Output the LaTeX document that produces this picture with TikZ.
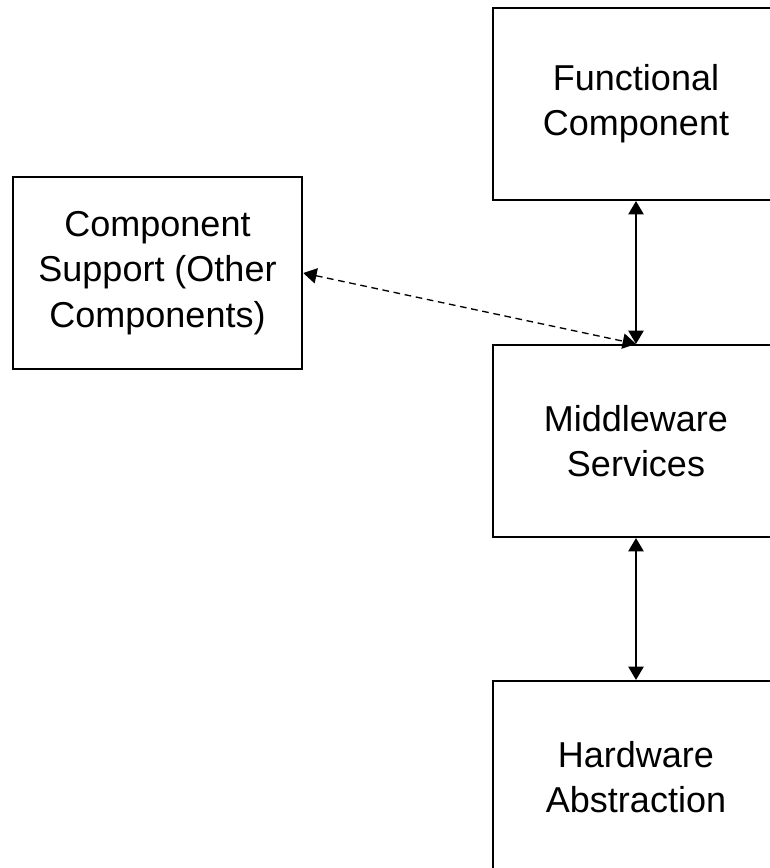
\documentclass[tikz,border=0pt]{standalone}
\usepackage{fontspec}
\setmainfont{Liberation Sans}
\usepackage{tikz}
\usetikzlibrary{arrows.meta}

\begin{document}
\begin{tikzpicture}[x=0.75pt,y=-0.75pt,
		box/.style={draw,line width=1.6pt,minimum width=214pt,minimum height=144pt,inner sep=0pt,align=center,
			font=\fontsize{27}{34}\selectfont},
		link/.style={line width=1.2pt,{Triangle[length=10pt,width=11.5pt]}-{Triangle[length=10pt,width=11.5pt]}}]
			\useasboundingbox (0,0) rectangle (770,868);
			\clip (0,0) rectangle (770,868);
			\node[box] (fc) at (636,104) {Functional\\Component};
			\node[box] (mw) at (636,441) {Middleware\\Services};
			\node[box] (hw) at (636,777) {Hardware\\Abstraction};
			\node[box,minimum width=217pt] (sup) at (157.5,273) {Component\\Support (Other\\Components)};
			\draw[link] (fc) -- (mw);
			\draw[link] (mw) -- (hw);
			\draw[link,line width=1pt,dash pattern=on 5pt off 3.5pt] (sup.east) -- (mw.north);
		\end{tikzpicture}
\end{document}
